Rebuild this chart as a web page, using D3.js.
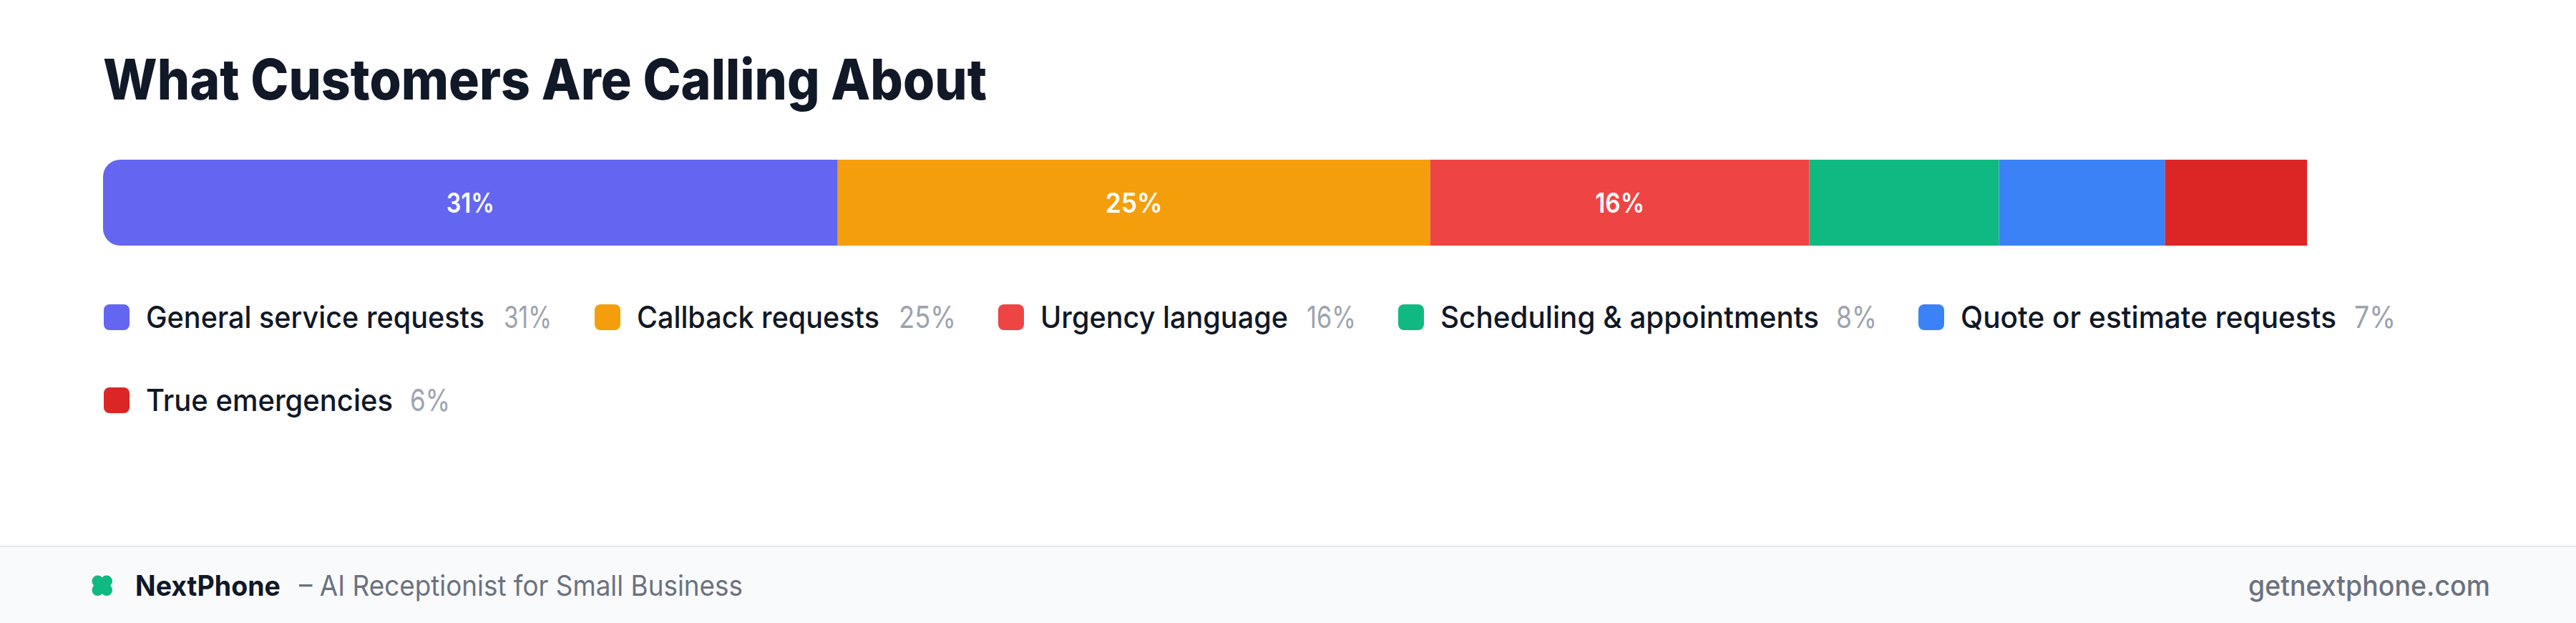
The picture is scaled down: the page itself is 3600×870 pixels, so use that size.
<!DOCTYPE html>
<html><head><meta charset="utf-8">
<script src="https://cdn.jsdelivr.net/npm/d3@7"></script>
<style>html,body{margin:0;padding:0;background:#fff}svg{display:block}text{font-family:Inter,"Open Sans",sans-serif}</style>
</head><body><svg id="c" width="3600" height="870"></svg>
<script>
const categories=["General service requests","Callback requests","Urgency language","Scheduling & appointments","Quote or estimate requests","True emergencies"];
const shares=[31,25,16,8,7,6];
const colors=["#6366f1","#f59e0b","#ef4444","#10b981","#3b82f6","#dc2626"];
const title="What Customers Are Calling About";
const brand="NextPhone";
const tagline="– AI Receptionist for Small Business";
const site="getnextphone.com";

(function(){
const swatchX=[145,831,1395,1954,2681,145];
const pctX=[704,1256,1826,2566,3290,573];
const labelWidths=[473,339,346,529,525,345];
const pctWidths=[67,80,69,57,58,56];

const svg=d3.select("#c");
const x=d3.scaleLinear().domain([0,100]).range([144,3456]);
const fit=(s,len)=>s.attr("textLength",len).attr("lengthAdjust","spacingAndGlyphs");

fit(svg.append("text").attr("x",144).attr("y",139).attr("font-size",78).attr("font-weight",800).attr("fill","#111827").text(title),1235);

const stack=d3.cumsum(shares);
const r=24,barTop=223,barBot=343;
const g=svg.append("g");
shares.forEach((v,i)=>{
  const x0=x(i?stack[i-1]:0),x1=x(stack[i]);
  if(i===0){
    const p=d3.path();
    p.moveTo(x1,barTop);p.lineTo(x0+r,barTop);p.arcTo(x0,barTop,x0,barTop+r,r);p.lineTo(x0,barBot-r);p.arcTo(x0,barBot,x0+r,barBot,r);p.lineTo(x1,barBot);p.closePath();
    g.append("path").attr("d",p.toString()).attr("fill",colors[i]);
  } else g.append("rect").attr("x",x0).attr("y",barTop).attr("width",x1-x0).attr("height",barBot-barTop).attr("fill",colors[i]);
  if(v>=10) fit(g.append("text").attr("x",(x0+x1)/2).attr("y",297).attr("text-anchor","middle").attr("font-size",38).attr("font-weight",600).attr("fill","#fff").text(v+"%"),pctWidths[i]);
});

categories.forEach((c,i)=>{
  const lx=swatchX[i];
  const cy=443+(i===5?116:0);
  svg.append("rect").attr("x",lx).attr("y",cy-18).attr("width",36).attr("height",36).attr("rx",8).attr("fill",colors[i]);
  fit(svg.append("text").attr("x",lx+59).attr("y",cy+15).attr("font-size",42).attr("font-weight",500).attr("fill","#111827").text(c),labelWidths[i]);
  fit(svg.append("text").attr("x",pctX[i]).attr("y",cy+15).attr("font-size",42).attr("font-weight",400).attr("fill","#9ca3af").text(shares[i]+"%"),pctWidths[i]);
});

svg.append("rect").attr("x",0).attr("y",762).attr("width",3600).attr("height",108).attr("fill","#f9fafb");
svg.append("rect").attr("x",0).attr("y",762).attr("width",3600).attr("height",2).attr("fill","#e5e7eb");
const lg=svg.append("g").attr("fill","#10b981");
[[136.5,811.5],[149,811.5],[136.5,824],[149,824]].forEach(d=>lg.append("circle").attr("cx",d[0]).attr("cy",d[1]).attr("r",8));
lg.append("rect").attr("x",136.5).attr("y",811.5).attr("width",12.5).attr("height",12.5);
fit(svg.append("text").attr("x",189).attr("y",832).attr("font-size",39).attr("font-weight",700).attr("fill","#111827").text(brand),203);
fit(svg.append("text").attr("x",418).attr("y",832).attr("font-size",39).attr("font-weight",400).attr("fill","#6b7280").text(tagline),620);
fit(svg.append("text").attr("x",3142).attr("y",832).attr("font-size",39).attr("font-weight",500).attr("fill","#6b7280").text(site),338);
})();
</script></body></html>
